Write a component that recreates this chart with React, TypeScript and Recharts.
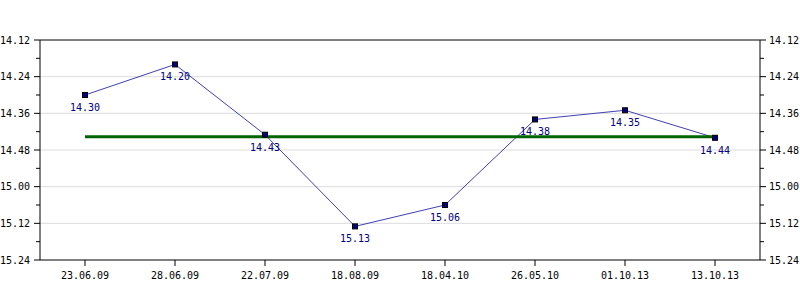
import { LineChart, Line, XAxis, YAxis, ReferenceLine } from 'recharts';

const dates = ['23.06.09', '28.06.09', '22.07.09', '18.08.09', '18.04.10', '26.05.10', '01.10.13', '13.10.13'];
const times = ['14.30', '14.20', '14.43', '15.13', '15.06', '14.38', '14.35', '14.44'];

// axis: 14.12 .. 15.24, labels every 12 s, small ticks every 6 s
const yMajorTicks = ['14.12', '14.24', '14.36', '14.48', '15.00', '15.12', '15.24'];
const yMinorTicks = ['14.18', '14.30', '14.42', '14.54', '15.06', '15.18'];

const FONT = '"DejaVu Sans Mono", monospace';
const LEFT = 40;
const RIGHT = 760;

const toSec = (t: string) => {
  const [m, s] = t.split('.');
  return Number(m) * 60 + Number(s);
};
const fmt = (sec: number) => {
  const m = Math.floor(sec / 60);
  const s = sec % 60;
  return `${m}.${s < 10 ? '0' : ''}${s}`;
};

const data = dates.map((d, i) => ({ date: d, sec: toSec(times[i]), label: times[i] }));
const avg = data.reduce((a, b) => a + b.sec, 0) / data.length;

const majorSec = yMajorTicks.map(toSec);
const allTicks = [...majorSec, ...yMinorTicks.map(toSec)].sort((a, b) => a - b);
const domain = [toSec('14.12'), toSec('15.24')];

const YTick = ({ y, payload, side }: any) => {
  const major = majorSec.includes(payload.value);
  const len = major ? 6 : 4;
  const x0 = side === 'left' ? LEFT : RIGHT;
  const x1 = side === 'left' ? LEFT - len : RIGHT + len;
  return (
    <g>
      <line x1={x0} y1={y} x2={x1} y2={y} stroke="#000" />
      {major && (
        <text
          x={side === 'left' ? LEFT - 10 : RIGHT + 9}
          y={y}
          dy={3.5}
          textAnchor={side === 'left' ? 'end' : 'start'}
          fontFamily={FONT}
          fontSize={10}
          fill="#000"
        >
          {fmt(payload.value)}
        </text>
      )}
    </g>
  );
};

const LeftTick = (props: any) => <YTick {...props} side="left" />;
const RightTick = (props: any) => <YTick {...props} side="right" />;

const Dot = ({ cx, cy }: any) => (
  <rect x={cx - 2.5} y={cy - 2.5} width={5} height={5} fill="#000080" stroke="#000" strokeWidth={1} />
);

const PointLabel = ({ x, y, index }: any) => (
  <text x={x} y={y + 16} textAnchor="middle" fontFamily={FONT} fontSize={10} fill="#000080">
    {data[index].label}
  </text>
);

export default function App() {
  return (
    <div style={{ position: 'absolute', left: 0, top: 0, background: '#fff' }}>
      <LineChart width={800} height={300} data={data} margin={{ top: 40, right: 0, bottom: 0, left: 0 }}>
        {yMajorTicks.slice(1, -1).map((t) => (
          <ReferenceLine key={t} yAxisId="l" y={toSec(t)} stroke="#dddddd" />
        ))}
        <ReferenceLine yAxisId="l" y={domain[0]} stroke="#000" />
        <XAxis
          dataKey="date"
          height={40}
          padding={{ left: 45, right: 45 }}
          stroke="#000"
          tickSize={6}
          tickMargin={6}
          tick={{ fontFamily: FONT, fontSize: 10, fill: '#000' }}
          interval={0}
        />
        <YAxis
          yAxisId="l"
          orientation="left"
          width={40}
          reversed
          domain={domain}
          ticks={allTicks}
          interval={0}
          stroke="#000"
          tickLine={false}
          tick={LeftTick}
        />
        <YAxis
          yAxisId="r"
          orientation="right"
          width={40}
          reversed
          domain={domain}
          ticks={allTicks}
          interval={0}
          stroke="#000"
          tickLine={false}
          tick={RightTick}
        />
        {/* invisible copy so the right axis has something bound to it */}
        <Line
          yAxisId="r"
          dataKey="sec"
          stroke="none"
          dot={false}
          activeDot={false}
          legendType="none"
          isAnimationActive={false}
        />
        <Line
          yAxisId="l"
          dataKey="sec"
          stroke="#4040b4"
          strokeWidth={1}
          dot={<Dot />}
          activeDot={false}
          label={<PointLabel />}
          isAnimationActive={false}
        />
        <ReferenceLine
          yAxisId="l"
          segment={[
            { x: dates[0], y: avg },
            { x: dates[dates.length - 1], y: avg },
          ]}
          stroke="#006400"
          strokeWidth={3}
        />
      </LineChart>
    </div>
  );
}
